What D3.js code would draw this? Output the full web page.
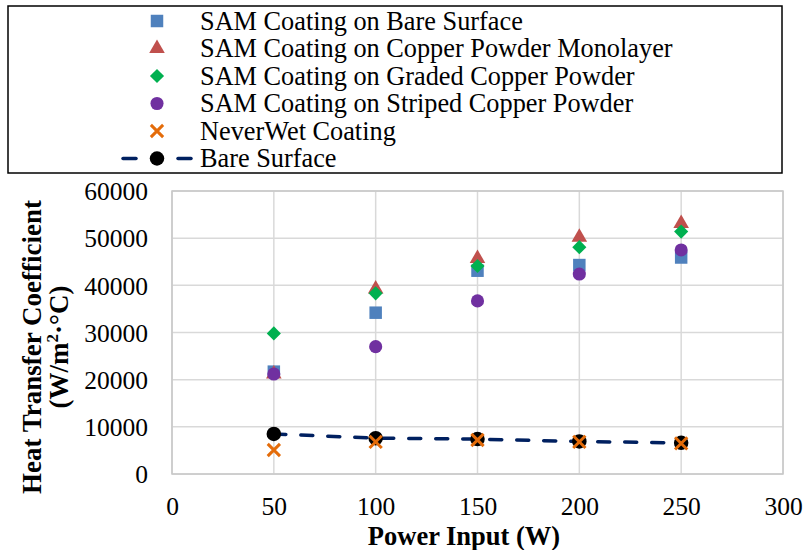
<!DOCTYPE html>
<html>
<head>
<meta charset="utf-8">
<script src="https://cdn.jsdelivr.net/npm/d3@7"></script>
<style>
  body { margin: 0; background: #fff; }
  text { font-family: "Liberation Serif", "Times New Roman", serif; fill: #000; }
</style>
</head>
<body>
<div class="chart"></div>
<script>
const powerInput = [50, 100, 150, 200, 250];

const samBare = [21700, 34200, 43100, 44300, 45900];
const samMonolayer = [21200, 39200, 45700, 50200, 53100];
const samGraded = [29800, 38300, 44100, 48100, 51400];
const samStriped = [21200, 27000, 36700, 42400, 47500];
const neverWet = [5100, 6800, 7200, 6800, 6500];
const bareSurface = [8500, 7600, 7400, 6900, 6600];

const xTicks = [0, 50, 100, 150, 200, 250, 300];
const yTicks = [0, 10000, 20000, 30000, 40000, 50000, 60000];

const width = 803;
const height = 550;
const margin = { top: 191, right: 20, bottom: 76, left: 172 };
const serif = '"Liberation Serif", "Times New Roman", serif';

const svg = d3
  .select(".chart")
  .append("svg")
  .attr("width", width)
  .attr("height", height);

const x = d3.scaleLinear().domain([0, 300]).range([margin.left, width - margin.right]);
const y = d3.scaleLinear().domain([0, 60000]).range([height - margin.bottom, margin.top]);

// custom x marker
const xMark = {
  draw(ctx, size) {
    const r = Math.sqrt(size) / 2;
    ctx.moveTo(-r, -r); ctx.lineTo(r, r);
    ctx.moveTo(-r, r); ctx.lineTo(r, -r);
  },
};

const series = [
  { name: "SAM Coating on Bare Surface", values: samBare, type: d3.symbolSquare, size: 156, color: "#4F81BD" },
  { name: "SAM Coating on Copper Powder Monolayer", values: samMonolayer, type: d3.symbolTriangle, size: 105, color: "#C0504D" },
  { name: "SAM Coating on Graded Copper Powder", values: samGraded, type: d3.symbolSquare, size: 100, color: "#00B050", rotate: 45 },
  { name: "SAM Coating on Striped Copper Powder", values: samStriped, type: d3.symbolCircle, size: 135, color: "#7030A0" },
  { name: "NeverWet Coating", values: neverWet, type: xMark, size: 150, color: "#E46C0A", stroke: true },
  { name: "Bare Surface", values: bareSurface, type: d3.symbolCircle, size: 165, color: "#000000", line: "#002060" },
];

// gridlines
svg.append("g")
  .selectAll("line")
  .data(yTicks)
  .join("line")
  .attr("x1", x(0)).attr("x2", x(300))
  .attr("y1", (d) => y(d)).attr("y2", (d) => y(d))
  .style("stroke", "#D9D9D9")
  .style("stroke-width", 1.5);

svg.append("g")
  .selectAll("line")
  .data(xTicks)
  .join("line")
  .attr("x1", (d) => x(d)).attr("x2", (d) => x(d))
  .attr("y1", y(0)).attr("y2", y(60000))
  .style("stroke", "#D9D9D9")
  .style("stroke-width", 1.5);

svg.append("rect")
  .attr("x", x(0)).attr("y", y(60000))
  .attr("width", x(300) - x(0)).attr("height", y(0) - y(60000))
  .style("fill", "none")
  .style("stroke", "#C8C8C8")
  .style("stroke-width", 1.5);

// axes (labels only, Excel style)
const xAxis = svg.append("g")
  .attr("transform", `translate(0, ${y(0) + 41})`)
  .call(d3.axisBottom(x).tickValues(xTicks).tickSize(0).tickFormat(d3.format("d")));
xAxis.select(".domain").remove();
xAxis.attr("font-family", null);
xAxis.selectAll("text")
  .attr("dy", 0)
  .attr("y", 0)
  .style("font-size", "25.5px")
  .style("font-family", serif);

const yAxis = svg.append("g")
  .attr("transform", `translate(${x(0) - 24}, 0)`)
  .call(d3.axisLeft(y).tickValues(yTicks).tickSize(0).tickFormat(d3.format("d")));
yAxis.select(".domain").remove();
yAxis.attr("font-family", null);
yAxis.selectAll("text")
  .attr("x", 0)
  .attr("dy", "0.34em")
  .style("font-size", "25.5px")
  .style("font-family", serif);

// axis titles
svg.append("text")
  .attr("x", 464)
  .attr("y", 545)
  .attr("text-anchor", "middle")
  .attr("font-weight", "bold")
  .style("font-size", "26.5px")
  .text("Power Input (W)");

const yTitle = svg.append("text")
  .attr("transform", "translate(41, 347) rotate(-90)")
  .attr("text-anchor", "middle")
  .attr("font-weight", "bold")
  .style("font-size", "27px");
yTitle.append("tspan").attr("x", 0).attr("y", 0).text("Heat Transfer Coefficient");
yTitle.append("tspan").attr("x", 0).attr("y", 27).text("(W/m");
yTitle.append("tspan").attr("dy", -10).style("font-size", "17px").text("2");
yTitle.append("tspan").attr("dy", 10).text("·°C)");

// series
const plot = svg.append("g");
const symbolPath = (s) => d3.symbol().type(s.type).size(s.size)();

const drawMarkers = (s) => {
  const pts = powerInput.map((p, i) => [p, s.values[i]]);
  if (s.line) {
    plot.append("path")
      .datum(pts)
      .attr("d", d3.line().x((d) => x(d[0])).y((d) => y(d[1])))
      .style("fill", "none")
      .style("stroke", s.line)
      .style("stroke-width", 3.5)
      .style("stroke-linecap", "round")
      .style("stroke-dasharray", "12,15");
  }
  plot.append("g")
    .selectAll("path")
    .data(pts)
    .join("path")
    .attr("transform", (d) => `translate(${x(d[0])}, ${y(d[1])})${s.rotate ? ` rotate(${s.rotate})` : ""}`)
    .attr("d", symbolPath(s))
    .style("fill", s.stroke ? "none" : s.color)
    .style("stroke", s.stroke ? s.color : "none")
    .style("stroke-width", s.stroke ? 3 : 0);
};

// Excel draw order: the bare surface line sits under the NeverWet crosses
[0, 1, 2, 3, 5, 4].forEach((i) => drawMarkers(series[i]));

// legend
const legend = svg.append("g");
legend.append("rect")
  .attr("x", 8).attr("y", 6)
  .attr("width", 774).attr("height", 167)
  .style("fill", "#fff")
  .style("stroke", "#000")
  .style("stroke-width", 1.5);

const rowY = (i) => 21 + i * 27.5;

series.forEach((s, i) => {
  const g = legend.append("g").attr("transform", `translate(0, ${rowY(i)})`);
  if (s.line) {
    [[123, 136], [178, 191]].forEach(([a, b]) => {
      g.append("line")
        .attr("x1", a).attr("x2", b)
        .style("stroke", s.line)
        .style("stroke-width", 3.5)
        .style("stroke-linecap", "round");
    });
  }
  g.append("path")
    .attr("transform", `translate(157, 0)${s.rotate ? ` rotate(${s.rotate})` : ""}`)
    .attr("d", symbolPath(s))
    .style("fill", s.stroke ? "none" : s.color)
    .style("stroke", s.stroke ? s.color : "none")
    .style("stroke-width", s.stroke ? 3 : 0);
  g.append("text")
    .attr("x", 200)
    .attr("y", 8.5)
    .style("font-size", "26.3px")
    .text(s.name);
});
</script>
</body>
</html>
